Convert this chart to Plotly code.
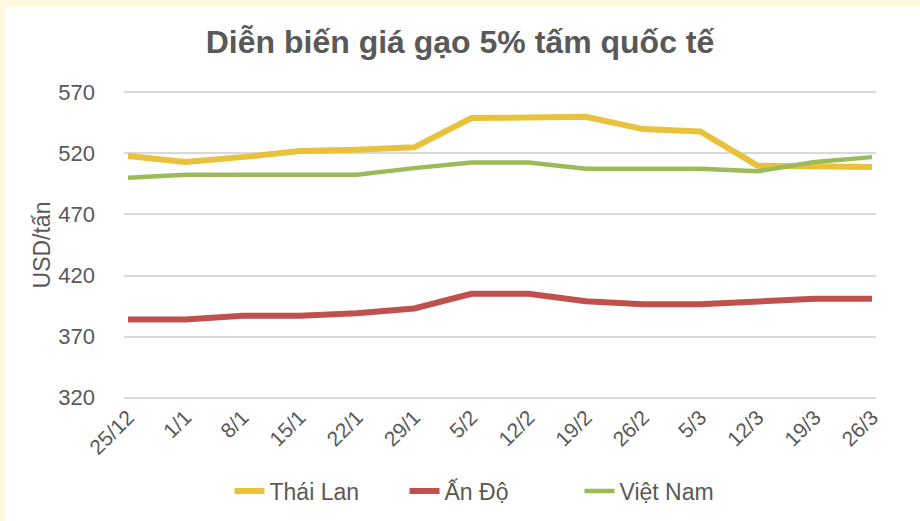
import plotly.graph_objects as go

dates = ["25/12", "1/1", "8/1", "15/1", "22/1", "29/1", "5/2", "12/2", "19/2", "26/2", "5/3", "12/3", "19/3", "26/3"]
thai_lan = [518, 513, 517, 522, 523, 525, 549, 549, 550, 540, 538, 510, 509, 509]
an_do = [384, 384, 387, 387, 389, 393, 405, 405, 399, 396.5, 396.5, 398.5, 401, 401]
viet_nam = [500, 502.5, 502.5, 502.5, 502.5, 508, 512.5, 512.5, 507.5, 507.5, 507.5, 505.5, 513, 517]
y_ticks = [320, 370, 420, 470, 520, 570]

TXT = "#595959"
FONT = "Liberation Sans, Arial, sans-serif"
CREAM = "#FFF8E1"

fig = go.Figure()
series = [("Thái Lan", thai_lan, "#E8C23C", 6), ("Ấn Độ", an_do, "#C0504D", 6), ("Việt Nam", viet_nam, "#9BBB59", 4.5)]
for name, vals, col, w in series:
    fig.add_trace(go.Scatter(x=list(range(len(dates))), y=vals, name=name, mode="lines",
                             line=dict(color=col, width=w), hoverinfo="skip"))

L, T, W, H = 124, 90, 752, 310
def px_x(p):
    return (p - L) / W
def px_y(p):
    return (T + H - p) / H

fig.update_layout(
    width=920, height=521,
    margin=dict(l=L, r=920 - L - W, t=T, b=521 - T - H, autoexpand=False),
    paper_bgcolor="white", plot_bgcolor="white",
    font=dict(family=FONT, color=TXT, size=21),
    title=dict(text="<b>Diễn biến giá gạo 5% tấm quốc tế</b>", x=0.5, xanchor="center",
               y=1 - 42 / 521, yanchor="middle", font=dict(size=32, color=TXT, family=FONT)),
    showlegend=True,
    legend=dict(orientation="h", x=0.5 - 8 / W, xanchor="center", y=px_y(491), yanchor="middle",
                font=dict(size=23, color=TXT), bgcolor="rgba(0,0,0,0)", entrywidth=130),
    shapes=[
        dict(type="rect", xref="paper", yref="paper", layer="below",
             x0=px_x(-5), x1=px_x(925), y0=px_y(7), y1=px_y(-5), fillcolor=CREAM, line=dict(width=0)),
        dict(type="rect", xref="paper", yref="paper", layer="below",
             x0=px_x(-5), x1=px_x(5), y0=px_y(525), y1=px_y(-5), fillcolor=CREAM, line=dict(width=0)),
    ],
)
fig.update_xaxes(range=[-0.07, len(dates) - 1 + 0.07], tickmode="array", tickvals=list(range(len(dates))),
                 ticktext=dates, tickangle=-45, showgrid=False, zeroline=False, showline=False,
                 tickfont=dict(size=21, color=TXT), ticks="", automargin=False)
fig.update_yaxes(range=[318, 572], tickvals=y_ticks, showgrid=True, gridcolor="#D9D9D9", gridwidth=1.5,
                 zeroline=False, showline=False, ticks="", tickfont=dict(size=22, color=TXT), automargin=False,
                 ticklabelstandoff=28,
                 title=dict(text="USD/tấn", font=dict(size=23, color=TXT), standoff=1))
fig.write_html("out.html", config={"displayModeBar": False},
               post_script="document.body.style.margin='0px';document.body.style.overflow='hidden';")
